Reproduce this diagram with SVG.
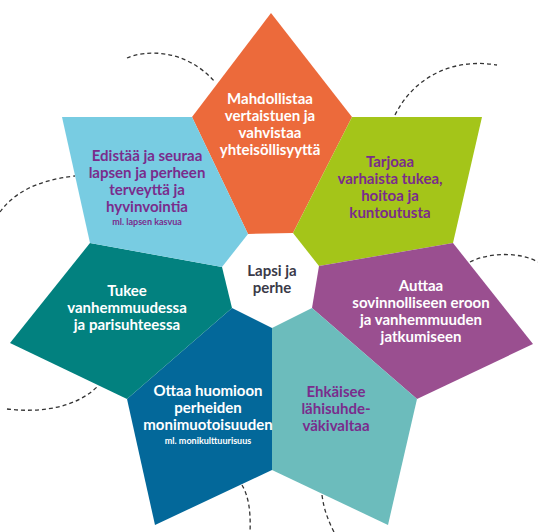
<svg xmlns="http://www.w3.org/2000/svg" width="538" height="532" viewBox="0 0 538 532">
<style>
.t{font-family:Lato,"Liberation Sans",sans-serif;font-weight:bold;font-size:15px;text-anchor:middle}
.w{fill:#ffffff}
.p{fill:#7a2c8c}
.s{font-size:9px}
.c{fill:#3a3a48;font-size:15px}
.d{fill:none;stroke:#333;stroke-width:1.3;stroke-dasharray:4 3}
</style>
<rect width="538" height="532" fill="#ffffff"/>
<g id="connectors">
<path class="d" d="M127,58 C145,50 185,48 215,82"/>
<path class="d" d="M395,115 C415,75 455,58 497,65"/>
<path class="d" d="M470,262 C490,252 520,252 538,262"/>
<path class="d" d="M322,495 C324,510 328,520 334,532"/>
<path class="d" d="M242,485 C248,495 251,510 250,532"/>
<path class="d" d="M7,409 C40,413 75,408 97,387"/>
<path class="d" d="M0,212 C12,195 35,180 75,176"/>
</g>
<g id="orange">
<polygon points="271,13 352,117 293,233 248,234 192,117" fill="#ec6a3b"/>
<text class="t w" x="270" y="104">Mahdollistaa</text>
<text class="t w" x="270" y="121">vertaistuen ja</text>
<text class="t w" x="270" y="138">vahvistaa</text>
<text class="t w" x="270" y="155">yhteisöllisyyttä</text>
</g>
<g id="green">
<polygon points="352,117 482,117 453,243 319,266 293,233" fill="#a4c519"/>
<text class="t p" x="390" y="167">Tarjoaa</text>
<text class="t p" x="390" y="184">varhaista tukea,</text>
<text class="t p" x="390" y="201">hoitoa ja</text>
<text class="t p" x="390" y="218">kuntoutusta</text>
</g>
<g id="purple">
<polygon points="319,266 453,243 533,344 417,399 312,308" fill="#9a4f90"/>
<text class="t w" x="421" y="291">Auttaa</text>
<text class="t w" x="421" y="308">sovinnolliseen eroon</text>
<text class="t w" x="421" y="325">ja vanhemmuuden</text>
<text class="t w" x="421" y="342">jatkumiseen</text>
</g>
<g id="lightteal">
<polygon points="272,328 312,308 417,399 388,525 272,470" fill="#6cbcbc"/>
<text class="t p" x="336" y="397">Ehkäisee</text>
<text class="t p" x="336" y="414">lähisuhde-</text>
<text class="t p" x="336" y="431">väkivaltaa</text>
</g>
<g id="blue">
<polygon points="232,308 272,328 272,470 155,525 127,399" fill="#03689a"/>
<text class="t w" x="208" y="396">Ottaa huomioon</text>
<text class="t w" x="208" y="413">perheiden</text>
<text class="t w" x="208" y="430">monimuotoisuuden</text>
<text class="t w s" x="208" y="444">ml. monikulttuurisuus</text>
</g>
<g id="darkteal">
<polygon points="90,243 222,267 232,308 127,399 10,343" fill="#02817f"/>
<text class="t w" x="127" y="296">Tukee</text>
<text class="t w" x="127" y="313">vanhemmuudessa</text>
<text class="t w" x="127" y="330">ja parisuhteessa</text>
</g>
<g id="lightblue">
<polygon points="62,117 192,117 248,234 222,267 90,243" fill="#78cce2"/>
<text class="t p" x="147" y="161">Edistää ja seuraa</text>
<text class="t p" x="147" y="178">lapsen ja perheen</text>
<text class="t p" x="147" y="195">terveyttä ja</text>
<text class="t p" x="147" y="212">hyvinvointia</text>
<text class="t p s" x="147" y="225">ml. lapsen kasvua</text>
</g>
<g id="center">
<text class="t c" x="272" y="276">Lapsi ja</text>
<text class="t c" x="272" y="293">perhe</text>
</g>
</svg>
